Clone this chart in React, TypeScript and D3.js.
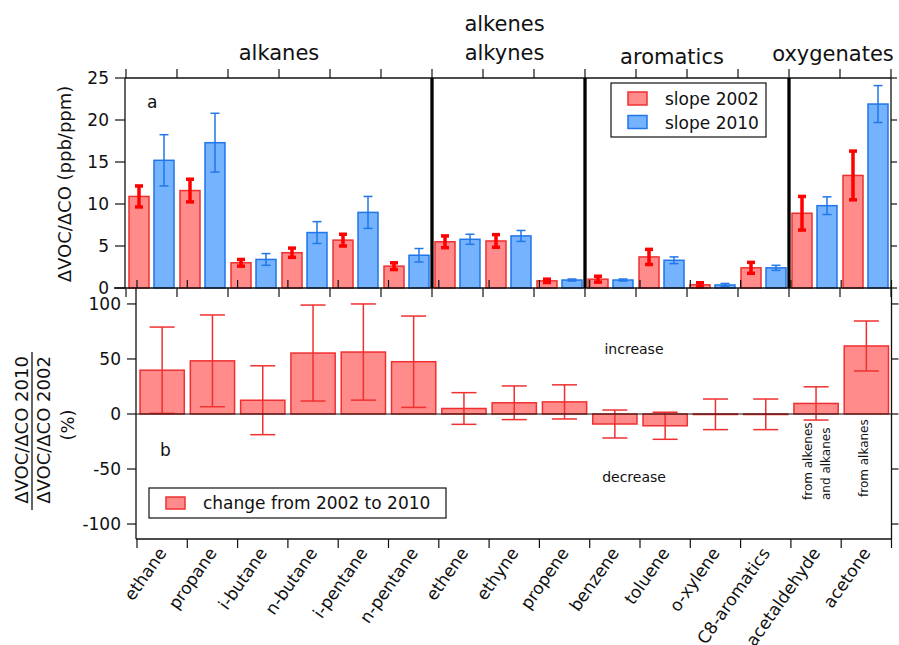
import React from 'react';
import * as d3 from 'd3';

// ---------- data ----------
const categories = ['ethane', 'propane', 'i-butane', 'n-butane', 'i-pentane', 'n-pentane', 'ethene', 'ethyne', 'propene', 'benzene', 'toluene', 'o-xylene', 'C8-aromatics', 'acetaldehyde', 'acetone'];
const slope2002 = [10.9, 11.6, 3.0, 4.2, 5.7, 2.6, 5.5, 5.6, 0.85, 1.05, 3.7, 0.38, 2.4, 8.9, 13.4];
const err2002 = [1.25, 1.35, 0.4, 0.55, 0.7, 0.4, 0.7, 0.75, 0.2, 0.35, 0.9, 0.25, 0.65, 2.0, 2.9];
const slope2010 = [15.2, 17.3, 3.4, 6.6, 9.0, 3.9, 5.8, 6.2, 0.95, 0.95, 3.3, 0.36, 2.4, 9.8, 21.9];
const err2010 = [3.05, 3.5, 0.7, 1.3, 1.9, 0.8, 0.6, 0.65, 0.12, 0.12, 0.4, 0.18, 0.3, 1.05, 2.2];
const change = [39.8, 48.3, 12.5, 55.4, 56.3, 47.5, 5.0, 10.2, 11.0, -9.1, -10.7, -0.3, -0.3, 9.6, 61.8];
const changeErr = [39.2, 41.7, 31.3, 43.6, 43.7, 41.5, 14.4, 15.3, 15.5, 12.7, 12.3, 13.9, 13.9, 15.1, 22.7];
const groups = [
  { lines: ['alkanes'], start: 0, end: 6 },
  { lines: ['alkenes', 'alkynes'], start: 6, end: 9 },
  { lines: ['aromatics'], start: 9, end: 13 },
  { lines: ['oxygenates'], start: 13, end: 15 },
];
const topTicks = [0, 5, 10, 15, 20, 25];
const bottomTicks = [-100, -50, 0, 50, 100];

// ---------- layout ----------
const W = 899, H = 645;
const FONT = 'DejaVu Sans, Verdana, sans-serif';
const topL = 126, topR = 891, topT = 78, topB = 288;
const botL = 137, botR = 891.5, botT = 288, botB = 539;
const titleDx = [0, -4, -15, -7];
const titleY = [[60], [31, 60], [64], [61]];

const RED_FILL = '#ff8b8b';
const RED_STROKE = '#f03030';
const RED_ERR = '#ff0000';
const BLUE_FILL = '#75b3ff';
const BLUE_STROKE = '#2176e8';

export default function App() {
  const xTop = d3.scaleBand<string>().domain(categories).range([topL, topR]).paddingInner(0).paddingOuter(0);
  const xSub = d3.scaleBand<string>().domain(['2002', '2010']).range([0, xTop.bandwidth()]).paddingInner(0.2).paddingOuter(0.12);
  const yTop = d3.scaleLinear().domain([0, 25]).range([topB, topT]);

  const xBot = d3.scaleBand<string>().domain(categories).range([botL, botR]).paddingInner(0.12).paddingOuter(0.06);
  const xBotStep = d3.scaleBand<string>().domain(categories).range([botL, botR]);
  const yBot = d3.scaleLinear().domain([-113.6, 114.5]).range([botB, botT]);

  const topBoundaries = d3.range(categories.length + 1).map((i) => topL + i * xTop.step());
  const botBoundaries = d3.range(categories.length + 1).map((i) => botL + i * xBotStep.step());

  const series = [
    { key: '2002', vals: slope2002, errs: err2002, fill: RED_FILL, stroke: RED_STROKE, errColor: RED_ERR, errW: 3.5, cap: 8 },
    { key: '2010', vals: slope2010, errs: err2010, fill: BLUE_FILL, stroke: BLUE_STROKE, errColor: BLUE_STROKE, errW: 1.5, cap: 9 },
  ];

  return (
    <svg width={W} height={H} style={{ position: 'absolute', left: 0, top: 0, background: '#fff' }} fontFamily={FONT}>
      <rect x={0} y={0} width={W} height={H} fill="#fff" />

      {/* ---------- top panel ---------- */}
      {series.map((s) =>
        categories.map((c, i) => {
          const x = (xTop(c) as number) + (xSub(s.key) as number);
          const bw = xSub.bandwidth();
          return (
            <rect key={s.key + c} x={x} y={yTop(s.vals[i])} width={bw} height={yTop(0) - yTop(s.vals[i])}
              fill={s.fill} stroke={s.stroke} strokeWidth={1.5} />
          );
        })
      )}
      {series.map((s) =>
        categories.map((c, i) => {
          const cx = (xTop(c) as number) + (xSub(s.key) as number) + xSub.bandwidth() / 2;
          const y1 = yTop(s.vals[i] + s.errs[i]);
          const y2 = yTop(Math.max(0, s.vals[i] - s.errs[i]));
          return (
            <g key={'e' + s.key + c} stroke={s.errColor} strokeWidth={s.errW}>
              <line x1={cx} x2={cx} y1={y1} y2={y2} />
              <line x1={cx - s.cap / 2} x2={cx + s.cap / 2} y1={y1} y2={y1} />
              <line x1={cx - s.cap / 2} x2={cx + s.cap / 2} y1={y2} y2={y2} />
            </g>
          );
        })
      )}

      {/* top panel frame */}
      <g stroke="#111" strokeWidth={1.3} fill="none">
        <line x1={topL - 1} x2={topL - 1} y1={topT} y2={topB} />
        <line x1={topL - 1} x2={topR} y1={topT} y2={topT} />
        <line x1={topR} x2={topR} y1={topT} y2={topB} />
        <line x1={topL - 12} x2={topR} y1={topB} y2={topB} />
      </g>
      {/* top axis ticks */}
      <g stroke="#111" strokeWidth={1.2}>
        {topBoundaries.map((x, i) => (
          <g key={'tt' + i}>
            <line x1={x} x2={x} y1={topT - 9} y2={topT} />
            <line x1={x} x2={x} y1={topB} y2={topB + 9} />
          </g>
        ))}
        {topTicks.map((t) => (
          <g key={'yt' + t}>
            <line x1={topL - 11} x2={topL - 1} y1={yTop(t)} y2={yTop(t)} />
            <line x1={topR} x2={topR + 6} y1={yTop(t)} y2={yTop(t)} />
          </g>
        ))}
      </g>
      {topTicks.map((t) => (
        <text key={'yl' + t} x={109} y={yTop(t)} dy="0.36em" textAnchor="end" fontSize={17} fill="#111">{t}</text>
      ))}
      {/* group dividers */}
      {groups.slice(1).map((g) => (
        <line key={'div' + g.start} x1={topBoundaries[g.start]} x2={topBoundaries[g.start]} y1={topT} y2={topB}
          stroke="#000" strokeWidth={3.3} />
      ))}
      {/* group titles */}
      {groups.map((g, gi) => {
        const cx = (topBoundaries[g.start] + topBoundaries[g.end]) / 2 + titleDx[gi];
        return g.lines.map((ln, li) => (
          <text key={'gt' + gi + li} x={cx} y={titleY[gi][li]} textAnchor="middle" fontSize={21} fill="#111">{ln}</text>
        ));
      })}
      <text x={147} y={108} fontSize={17} fill="#111">a</text>
      <text transform={`translate(71,184) rotate(-90)`} textAnchor="middle" fontSize={18} fill="#111">ΔVOC/ΔCO (ppb/ppm)</text>

      {/* top legend */}
      <rect x={611} y={83} width={155} height={54} fill="#fff" stroke="#111" strokeWidth={1.2} />
      <rect x={628} y={92} width={19} height={13} fill={RED_FILL} stroke={RED_STROKE} strokeWidth={1.5} />
      <rect x={628} y={115.5} width={19} height={13} fill={BLUE_FILL} stroke={BLUE_STROKE} strokeWidth={1.5} />
      <text x={665} y={105} fontSize={17} fill="#111">slope 2002</text>
      <text x={665} y={129} fontSize={17} fill="#111">slope 2010</text>

      {/* ---------- bottom panel ---------- */}
      {categories.map((c, i) => {
        const v = change[i];
        const y0 = yBot(0);
        const yv = yBot(v);
        return (
          <rect key={'cb' + c} x={xBot(c)} y={Math.min(y0, yv)} width={xBot.bandwidth()} height={Math.max(Math.abs(yv - y0), 0.5)}
            fill={RED_FILL} stroke={RED_STROKE} strokeWidth={1.5} />
        );
      })}
      {categories.map((c, i) => {
        const cx = (xBot(c) as number) + xBot.bandwidth() / 2;
        const y1 = yBot(change[i] + changeErr[i]);
        const y2 = yBot(change[i] - changeErr[i]);
        return (
          <g key={'ce' + c} stroke={RED_STROKE} strokeWidth={1.5}>
            <line x1={cx} x2={cx} y1={y1} y2={y2} />
            <line x1={cx - 12.5} x2={cx + 12.5} y1={y1} y2={y1} />
            <line x1={cx - 12.5} x2={cx + 12.5} y1={y2} y2={y2} />
          </g>
        );
      })}
      <line x1={botL - 1} x2={botR} y1={yBot(0)} y2={yBot(0)} stroke="#111" strokeWidth={1.2} />
      <g stroke="#111" strokeWidth={1.3} fill="none">
        <line x1={botL - 1} x2={botL - 1} y1={botT} y2={botB} />
        <line x1={botL - 1} x2={botR} y1={botB} y2={botB} />
        <line x1={botR} x2={botR} y1={botT} y2={botB} />
      </g>
      <g stroke="#111" strokeWidth={1.2}>
        {botBoundaries.map((x, i) => (
          <g key={'bt' + i}>
            <line x1={x} x2={x} y1={botT - 8} y2={botT} />
            <line x1={x} x2={x} y1={botB} y2={botB + 9} />
          </g>
        ))}
        {bottomTicks.map((t) => (
          <g key={'byt' + t}>
            <line x1={botL - 10} x2={botL - 1} y1={yBot(t)} y2={yBot(t)} />
            <line x1={botR} x2={botR + 7} y1={yBot(t)} y2={yBot(t)} />
          </g>
        ))}
      </g>
      {bottomTicks.map((t) => (
        <text key={'byl' + t} x={121} y={yBot(t)} dy="0.36em" textAnchor="end" fontSize={17} fill="#111">{t}</text>
      ))}
      {categories.map((c) => {
        const cx = (xBotStep(c) as number) + xBotStep.bandwidth() / 2;
        return (
          <text key={'xl' + c} transform={`translate(${cx + 5},553) rotate(-55)`} textAnchor="end" fontSize={17} fill="#111">{c}</text>
        );
      })}
      <text x={160} y={456} fontSize={17} fill="#111">b</text>
      <text x={634} y={354} textAnchor="middle" fontSize={14} fill="#111">increase</text>
      <text x={634} y={482} textAnchor="middle" fontSize={14} fill="#111">decrease</text>
      <text transform={`translate(812,500) rotate(-90)`} fontSize={12} fill="#111">from alkenes</text>
      <text transform={`translate(830,500) rotate(-90)`} fontSize={12} fill="#111">and alkanes</text>
      <text transform={`translate(868,497) rotate(-90)`} fontSize={12} fill="#111">from alkanes</text>

      {/* bottom y label as fraction */}
      <text transform={`translate(28,430) rotate(-90)`} textAnchor="middle" fontSize={18} fill="#111">ΔVOC/ΔCO 2010</text>
      <line x1={32} x2={32} y1={352} y2={510} stroke="#111" strokeWidth={1.3} />
      <text transform={`translate(50,430) rotate(-90)`} textAnchor="middle" fontSize={18} fill="#111">ΔVOC/ΔCO 2002</text>
      <text transform={`translate(74,425) rotate(-90)`} textAnchor="middle" fontSize={18} fill="#111">(%)</text>

      {/* bottom legend */}
      <rect x={149} y={488} width={297} height={30} fill="#fff" stroke="#111" strokeWidth={1.2} />
      <rect x={166} y={497} width={19} height={12} fill={RED_FILL} stroke={RED_STROKE} strokeWidth={1.5} />
      <text x={203} y={509} fontSize={17} fill="#111">change from 2002 to 2010</text>
    </svg>
  );
}
